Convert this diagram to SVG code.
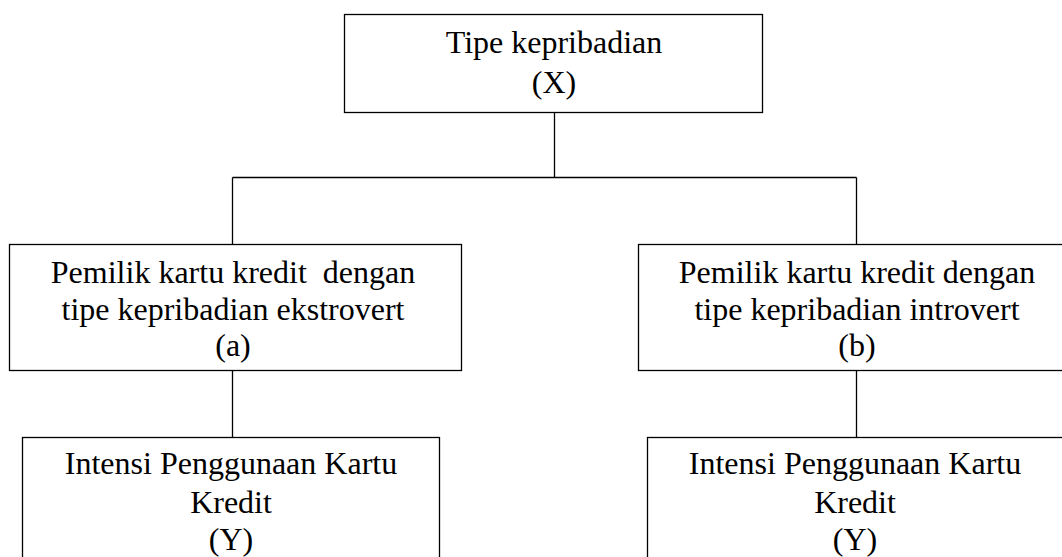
<svg xmlns="http://www.w3.org/2000/svg" width="1062" height="557" viewBox="0 0 1062 557">
<style>
.box{fill:#fff;stroke:#000;stroke-width:1.3}
.ln{fill:none;stroke:#000;stroke-width:1.3}
.t{font-size:32px;fill:#000;text-anchor:middle}
</style>
<rect width="1062" height="557" fill="#fff"/>
<g id="connectors">
<path class="ln" d="M554.5 112.5V177.5M232.5 177.5H856.5M232.5 177.5V244.5M856.5 177.5V244.5M232.5 370.5V437.5M856.5 370.5V437.5"/>
</g>
<g font-family="Liberation Serif, Tinos, DejaVu Serif, serif">
<g id="node-x">
<rect class="box" x="344.5" y="14.5" width="418" height="98"/>
<text class="t" x="554" y="53">Tipe kepribadian</text>
<text class="t" x="554" y="93">(X)</text>
</g>
<g id="node-a">
<rect class="box" x="9.5" y="244.5" width="452" height="126"/>
<text class="t" x="233" y="283" xml:space="preserve">Pemilik kartu kredit  dengan</text>
<text class="t" x="233" y="320">tipe kepribadian ekstrovert</text>
<text class="t" x="233" y="356">(a)</text>
</g>
<g id="node-b">
<rect class="box" x="638.5" y="244.5" width="440" height="126"/>
<text class="t" x="857" y="283">Pemilik kartu kredit dengan</text>
<text class="t" x="857" y="320">tipe kepribadian introvert</text>
<text class="t" x="857" y="356">(b)</text>
</g>
<g id="node-y1">
<rect class="box" x="22.5" y="437.5" width="417" height="140"/>
<text class="t" x="231" y="474">Intensi Penggunaan Kartu</text>
<text class="t" x="231" y="513">Kredit</text>
<text class="t" x="231" y="550">(Y)</text>
</g>
<g id="node-y2">
<rect class="box" x="647.5" y="437.5" width="430" height="140"/>
<text class="t" x="855" y="474">Intensi Penggunaan Kartu</text>
<text class="t" x="855" y="513">Kredit</text>
<text class="t" x="855" y="550">(Y)</text>
</g>
</g>
</svg>
